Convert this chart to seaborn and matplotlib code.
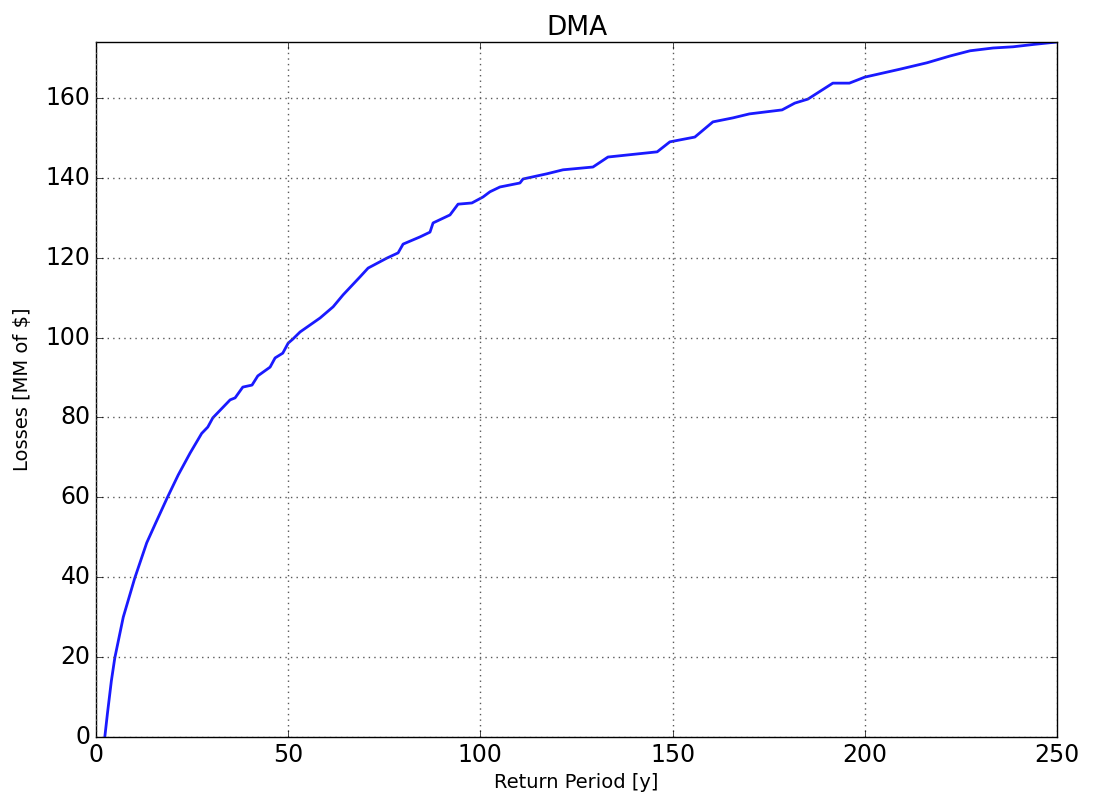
import matplotlib
matplotlib.use("Agg")
import matplotlib.pyplot as plt
import seaborn as sns
import pandas as pd

# values
return_period = [2.3, 3.0, 4.0, 4.9, 7.1, 10.1, 13.2, 15.5, 18.5, 21.4, 24.5, 27.5,
                 29.1, 30.4, 33.0, 34.9, 36.2, 38.2, 40.6, 42.1, 45.3, 46.6, 48.6,
                 50.0, 51.2, 53.1, 58.3, 61.7, 64.3, 68.7, 70.8, 75.7, 78.6, 79.9,
                 84.3, 86.9, 87.7, 92.1, 94.2, 97.8, 100.7, 102.5, 105.1, 110.3,
                 111.1, 117.3, 121.5, 129.3, 133.2, 146.0, 149.3, 155.8, 160.5,
                 165.7, 170.0, 178.5, 181.8, 185.2, 191.7, 196.0, 200.0, 209.2,
                 216.2, 222.2, 227.4, 233.4, 238.6, 244.0, 250.0]
losses = [0.0, 6.0, 14.0, 19.8, 30.0, 39.8, 48.6, 53.5, 59.8, 65.6, 71.1, 76.0,
          77.6, 79.9, 82.5, 84.4, 84.9, 87.6, 88.1, 90.4, 92.6, 94.9, 96.1,
          98.6, 99.6, 101.4, 104.9, 107.7, 110.7, 115.2, 117.4, 119.9, 121.2,
          123.4, 125.2, 126.4, 128.7, 130.7, 133.4, 133.7, 135.2, 136.5, 137.7,
          138.7, 139.7, 141.0, 142.0, 142.7, 145.2, 146.5, 149.0, 150.2, 154.0,
          155.0, 156.0, 157.0, 158.7, 159.7, 163.7, 163.7, 165.2, 167.2, 168.8,
          170.5, 171.8, 172.5, 172.8, 173.4, 174.0]

df = pd.DataFrame({"Return Period": return_period, "Losses": losses})

plt.style.use("classic")
plt.rcParams["figure.facecolor"] = "white"
plt.rcParams["savefig.facecolor"] = "white"

fig = plt.figure(figsize=(10.93, 8), dpi=100)
ax = fig.add_axes([0.0878, 0.0788, 0.8792, 0.8687])

sns.lineplot(data=df, x="Return Period", y="Losses", color="#1a1aff", linewidth=2, ax=ax)

ax.set_xlim(0, 250)
ax.set_ylim(0, 174)
ax.set_xticks(range(0, 251, 50))
ax.set_yticks(range(0, 161, 20))
ax.tick_params(labelsize=17, length=5, direction="in")
ax.grid(True, linestyle=":", color="0.35", linewidth=1)
ax.set_title("DMA", fontsize=19)
ax.set_xlabel("Return Period [y]", fontsize=14)
ax.set_ylabel("Losses [MM of $]", fontsize=14, labelpad=10)

fig.savefig("out.png", dpi=100)
